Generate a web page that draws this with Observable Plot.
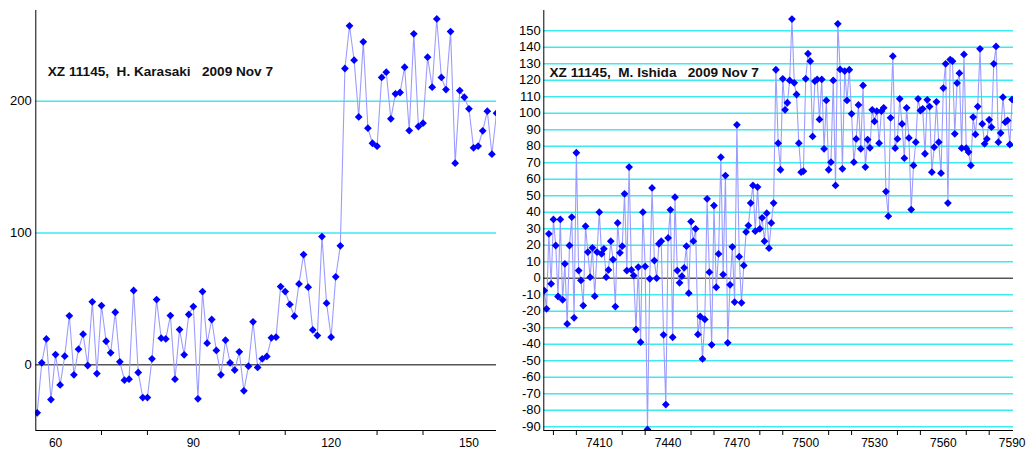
<!DOCTYPE html>
<html>
<head>
<meta charset="utf-8">
<script src="https://cdn.jsdelivr.net/npm/d3@7"></script>
<script src="https://cdn.jsdelivr.net/npm/@observablehq/plot@0.6"></script>
<style>
  html, body { margin: 0; padding: 0; background: #fff; }
  #wrap { position: relative; width: 1026px; height: 451px; overflow: hidden; }
  #wrap svg { position: absolute; top: 0; }
  #wrap svg text { white-space: pre; }
</style>
</head>
<body>
<div id="wrap"></div>
<script>
// Observer 1: H. Karasaki — consecutive frames starting at frame 56
const karasakiStart = 56;
const karasakiValues = [
  -36.4, 1.5, 19.7, -26.3, 7.8, -15.2, 6.6, 37.2, -7.6, 11.9,
  23.3, -0.5, 47.8, -6.6, 45, 17.9, 9.1, 39.9, 2.3, -11.6,
  -10.9, 56.4, -5.8, -24.8, -24.8, 4.6, 49.5, 20.2, 19.7, 37.4,
  -10.9, 26.8, 7.6, 38.2, 44.2, -25.8, 55.6, 16.4, 34.4, 10.9,
  -7.6, 18.7, 1.5, -4, 9.9, -19.7, -1, 32.6, -2, 4.6,
  6.4, 20.5, 21, 59.4, 55.6, 45.8, 36.9, 61.4, 83.7, 58.9,
  26.5, 22.2, 97.3, 46.8, 21, 66.8, 90.3, 224.8, 257.2, 231.1,
  188.1, 245, 179.5, 168.1, 165.9, 218, 222, 186.6, 205.6, 206.6,
  225.8, 177.7, 251.1, 180.8, 183.3, 233.4, 210.6, 262.4, 218, 208.8,
  252.8, 153, 208.1, 203, 194.2, 164.6, 166, 177.5, 192.4, 159.8,
  190.9
];
const karasakiYTicks = [0, 100, 200];
const karasakiXLabels = [60, 90, 120, 150];
const karasakiXMinor = [70, 80, 100, 110, 130, 140];
const karasakiTitle = "XZ 11145,  H. Karasaki   2009 Nov 7";

// Observer 2: M. Ishida — consecutive frames starting at frame 7386
const ishidaStart = 7386;
const ishidaValues = [
  -7.5, -18.6, 26.9, -3.4, 35.6, 19.8, -11.1, 35.6, -13.1, 8.7,
  -27.7, 19.8, 37, -24, 76, 4.6, -1.4, -16.6, 31.5, 15.8,
  0.6, 18.4, -10.9, 15.8, 40, 14.7, 17.8, 0.6, 5, 22.4,
  11.3, -17.2, 33.5, 15.4, 19.4, 51.1, 4.6, 67.3, 5, 1.6,
  -31.1, 6.7, -38.8, 40, 7.1, -91.7, -0.4, 54.7, 10.7, 0,
  20.8, 22.4, -34.3, -76.6, 24.4, 41.4, -35.8, 49.1, 4.6, -2.8,
  1.2, 6.3, 19.4, -9.1, 34.3, 22.4, 29.9, -34.1, -23.2, -48.9,
  -25, 48.1, 3.6, -40.4, 44, -5.5, 14.7, 73.3, 2.2, 62.2,
  -39.2, -4, 19, -14.5, 92.9, 13, -14.9, 7.7, 28, 31.9,
  45.5, 56.2, 28.5, 55.2, 29.9, 36.6, 22.4, 39.4, 18.2, 33.5,
  45.5, 126.3, 81.8, 65.7, 120.8, 102, 106.3, 119.8, 157, 118.4,
  111.3, 81.8, 64.2, 64.8, 120.8, 136, 131.5, 85.9, 119.4, 120.4,
  96.2, 120.4, 78.4, 107.7, 65.7, 70.3, 119.8, 56.2, 154.1, 126.5,
  66.3, 125.5, 107.7, 126.3, 99.6, 70.3, 84.4, 105, 78.4, 116.8,
  67.3, 84, 79, 102, 95, 101.2, 81.8, 101.2, 103.2, 52.5,
  37.6, 97.2, 134.5, 78.8, 84.4, 108.7, 93.5, 72.7, 103.2, 85,
  41.6, 68.3, 82.4, 108.7, 101.6, 102.6, 75.4, 108.1, 104, 64.2,
  79.4, 106.9, 82.4, 63.6, 115.2, 129.9, 45.5, 132.5, 131.5, 87.5,
  118.2, 124.2, 78.8, 135.6, 78.8, 76.4, 68.3, 97.6, 87.1, 104,
  139, 93.5, 81.4, 84.4, 96, 91.5, 129.9, 140.4, 82.4, 87.9,
  109.7, 94.5, 95.6, 81, 108.3
];
const ishidaYTicks = [-90, -80, -70, -60, -50, -40, -30, -20, -10, 0,
  10, 20, 30, 40, 50, 60, 70, 80, 90, 100, 110, 120, 130, 140, 150];
const ishidaXLabels = [7410, 7440, 7470, 7500, 7530, 7560, 7590];
const ishidaXMinor = [7390, 7400, 7420, 7430, 7450, 7460, 7480, 7490,
  7510, 7520, 7540, 7550, 7570, 7580];
const ishidaTitle = "XZ 11145,  M. Ishida   2009 Nov 7";

const FONT = "'Liberation Sans', Arial, sans-serif";
const GRID = "#3ceaf2";
const LINE = "#9c9cff";
const DOT = "#0000ff";

function panel(o) {
  const data = o.values.map((v, i) => ({frame: o.start + i, value: v}));
  const grid = o.yTicks.filter((d) => d !== 0);
  const svg = Plot.plot({
    width: o.width,
    height: 451,
    marginLeft: o.marginLeft,
    marginRight: o.marginRight,
    marginTop: 10,
    marginBottom: 21,
    style: {fontFamily: FONT, fontSize: "12px", color: "#000", background: "transparent", overflow: "visible"},
    x: {domain: o.xDomain, label: null},
    y: {domain: o.yDomain, label: null},
    marks: [
      Plot.ruleY(grid, {stroke: GRID, strokeWidth: 1.5}),
      Plot.ruleY([0], {stroke: "#000", strokeWidth: 1}),
      Plot.line(data, {x: "frame", y: "value", stroke: LINE, strokeWidth: 1.1, clip: true}),
      Plot.dot(data, {x: "frame", y: "value", symbol: "diamond2", r: 3.5, fill: DOT, stroke: null, clip: true}),
      Plot.ruleX([o.xDomain[0]], {stroke: "#000", strokeWidth: 1}),
      Plot.ruleY([o.yDomain[0]], {stroke: "#000", strokeWidth: 1}),
      Plot.axisY(o.yTicks, {tickSize: 0, tickPadding: o.yPad, fontSize: 13, label: null, tickFormat: (d) => String(d)}),
      Plot.axisX(o.xLabels, {tickSize: 0, tickPadding: 8, fontSize: 12, label: null, tickFormat: (d) => String(d)}),
      Plot.axisX(o.xMinor, {tickSize: 5, label: null, tickFormat: () => ""}),
      Plot.text([o.title], {frameAnchor: "top-left", dx: o.titleDx, dy: o.titleDy, lineAnchor: "middle",
        textAnchor: "start", fontWeight: "bold", fontSize: 13.6, fill: "#111"})
    ]
  });
  svg.style.left = o.left + "px";
  document.getElementById("wrap").appendChild(svg);
}

panel({
  values: karasakiValues, start: karasakiStart,
  xDomain: [55.7, 156], yDomain: [-49.8, 268.8],
  yTicks: karasakiYTicks, xLabels: karasakiXLabels, xMinor: karasakiXMinor,
  title: karasakiTitle, titleDx: 12, titleDy: 61,
  width: 500, left: 0, marginLeft: 35.3, marginRight: 4, yPad: 4
});

panel({
  values: ishidaValues, start: ishidaStart,
  xDomain: [7385.8, 7590.6], yDomain: [-92.3, 162.2],
  yTicks: ishidaYTicks, xLabels: ishidaXLabels, xMinor: ishidaXMinor,
  title: ishidaTitle, titleDx: 5.7, titleDy: 62,
  width: 526, left: 500, marginLeft: 43.3, marginRight: 13, yPad: 3
});
</script>
</body>
</html>
